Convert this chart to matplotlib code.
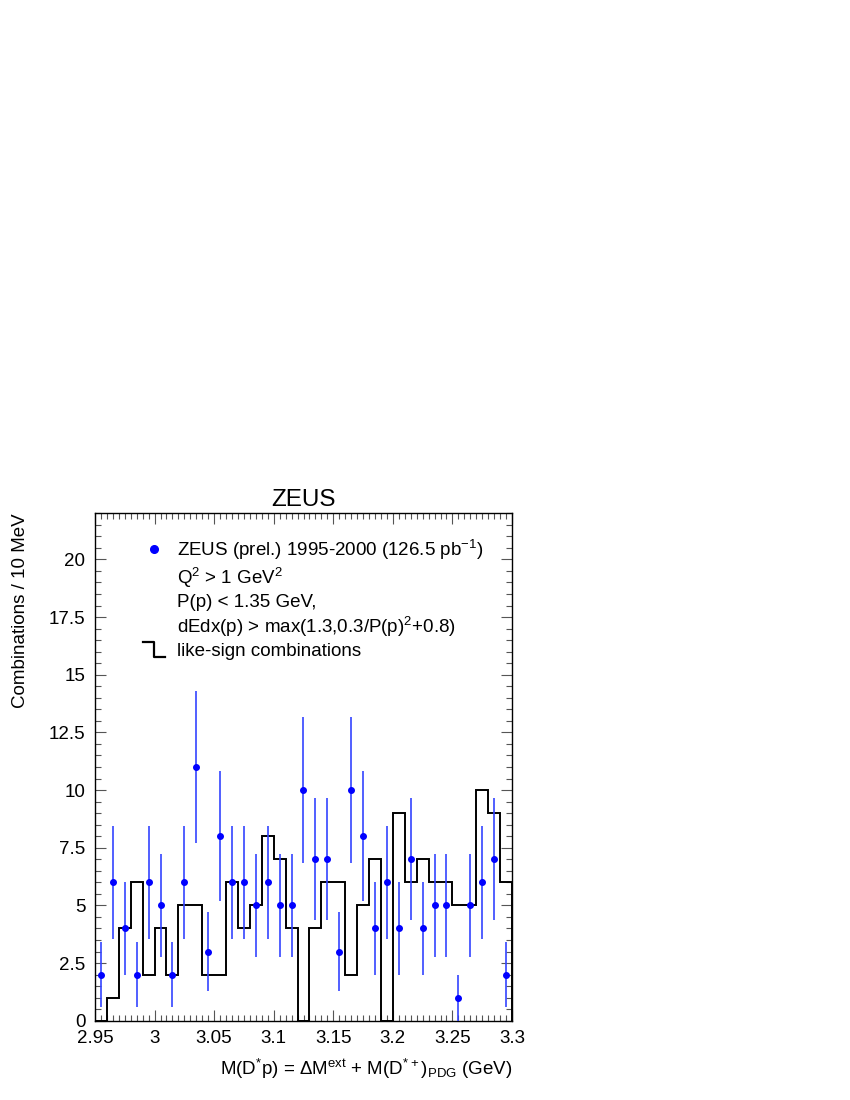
import numpy as np
import matplotlib
matplotlib.use('Agg')
import matplotlib.pyplot as plt
from matplotlib.lines import Line2D
from matplotlib.legend_handler import HandlerBase
from matplotlib.ticker import MultipleLocator, FormatStrFormatter

plt.rcParams['font.family'] = ['Liberation Sans', 'DejaVu Sans']
plt.rcParams['mathtext.default'] = 'regular'

# bin edges (GeV), 10 MeV bins
edges = [2.95, 2.96, 2.97, 2.98, 2.99, 3.00, 3.01, 3.02, 3.03, 3.04,
         3.05, 3.06, 3.07, 3.08, 3.09, 3.10, 3.11, 3.12, 3.13, 3.14,
         3.15, 3.16, 3.17, 3.18, 3.19, 3.20, 3.21, 3.22, 3.23, 3.24,
         3.25, 3.26, 3.27, 3.28, 3.29, 3.30]

# ZEUS data, combinations per bin
counts = [2, 6, 4, 2, 6, 5, 2, 6, 11, 3,
          8, 6, 6, 5, 6, 5, 5, 10, 7, 7,
          3, 10, 8, 4, 6, 4, 7, 4, 5, 5,
          1, 5, 6, 7, 2]

# like-sign combinations
like_sign = [0, 1, 4, 6, 2, 4, 2, 5, 5, 2,
             2, 6, 4, 5, 8, 7, 4, 0, 4, 6,
             6, 2, 5, 7, 0, 9, 6, 7, 6, 6,
             5, 5, 10, 9, 6]

edges_a = np.array(edges)
centers = 0.5 * (edges_a[:-1] + edges_a[1:])
counts_a = np.array(counts, dtype=float)


class StepHandler(HandlerBase):
    # little histogram-step symbol for the legend
    def create_artists(self, legend, orig_handle, xdescent, ydescent,
                       width, height, fontsize, trans):
        x0, x1 = -xdescent, -xdescent + width
        xm = x0 + 0.5 * width
        ytop = -ydescent + 1.05 * height
        ybot = -ydescent - 0.1 * height
        ln = Line2D([x0, xm, xm, x1], [ytop, ytop, ybot, ybot],
                    color='black', lw=1.6, transform=trans)
        return [ln]


fig = plt.figure(figsize=(8.5, 11), dpi=100)
ax = fig.add_axes([95 / 850, 1 - 1020.7 / 1100, 417 / 850, 507.4 / 1100])

hist = ax.stairs(like_sign, edges, baseline=0, color='black', lw=1.4, zorder=2)
ax.errorbar(centers, counts_a, yerr=np.sqrt(counts_a), fmt='o', color='#0000ff',
            ms=4, elinewidth=1.2, capsize=0, ecolor='#3344ff', zorder=3)

ax.set_xlim(2.95, 3.3)
ax.set_ylim(0, 22)

ax.xaxis.set_major_locator(MultipleLocator(0.05))
ax.xaxis.set_minor_locator(MultipleLocator(0.005))
ax.yaxis.set_major_locator(MultipleLocator(2.5))
ax.yaxis.set_minor_locator(MultipleLocator(0.5))
ax.xaxis.set_major_formatter(FormatStrFormatter('%g'))
ax.yaxis.set_major_formatter(FormatStrFormatter('%g'))
ax.tick_params(which='both', direction='in', top=True, right=True,
               labelsize=13.5, width=0.8, color='#555555')
ax.tick_params(which='major', length=8)
ax.tick_params(which='minor', length=4.3)
ax.tick_params(axis='x', pad=7)
ax.tick_params(axis='y', pad=7)
for sp in ax.spines.values():
    sp.set_linewidth(1.0)

ax.set_title('ZEUS', fontsize=17.5, pad=5)
ax.set_xlabel(r'M(D$^{*}$p) = $\Delta$M$^{ext}$ + M(D$^{*+}$)$_{PDG}$ (GeV)',
              fontsize=13.5, loc='right', labelpad=7)
ax.set_ylabel('Combinations / 10 MeV', fontsize=13.5, loc='top', labelpad=14)

data_h = Line2D([], [], ls='none', marker='o', color='#0000ff', ms=5.5)
blank = Line2D([], [], ls='none')
handles = [data_h, blank, blank, blank, hist]
labels = [r'ZEUS (prel.) 1995-2000 (126.5 pb$^{-1}$)',
          r'Q$^{2}$ > 1 GeV$^{2}$',
          'P(p) < 1.35 GeV,',
          r'dEdx(p) > max(1.3,0.3/P(p)$^{2}$+0.8)',
          'like-sign combinations']
ax.legend(handles, labels, loc='upper left', bbox_to_anchor=(0.115, 0.952),
          frameon=False, fontsize=13.5, borderpad=0, borderaxespad=0,
          handlelength=1.17, handletextpad=0.64, labelspacing=0.21,
          handler_map={hist.__class__: StepHandler()})

fig.savefig('out.png', dpi=100)
